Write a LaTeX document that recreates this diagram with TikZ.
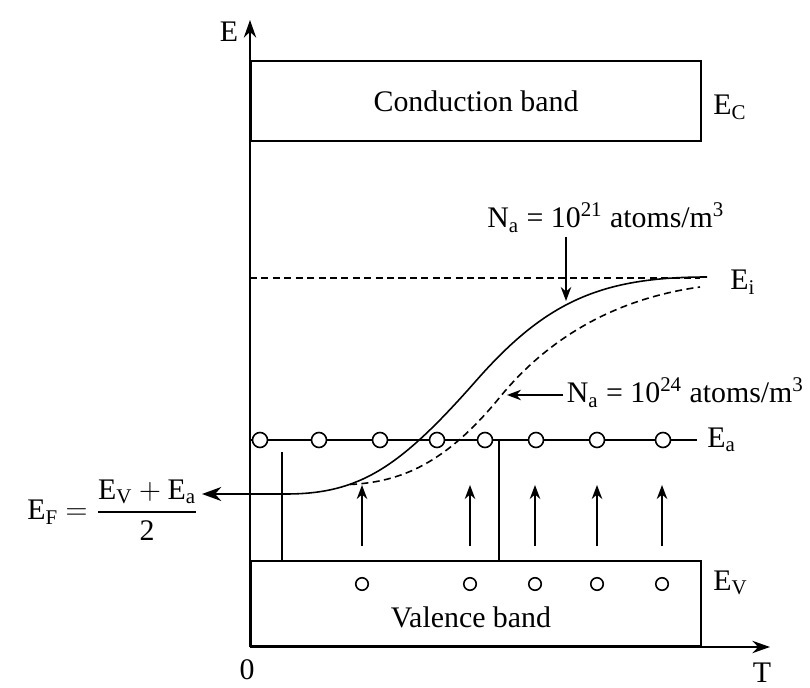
\documentclass[tikz,border=0pt]{standalone}
\usepackage{amsmath}
\usepackage{fontspec}
\setmainfont{Liberation Serif}
\usetikzlibrary{arrows.meta,positioning,calc}

\begin{document}
\begin{tikzpicture}[
  font=\fontsize{17}{20}\selectfont,
  band/.style={draw,line width=1.2pt,minimum width=9cm,inner sep=0pt,anchor=south west},
  lvl/.style={line width=0.9pt},
  arr/.style={-{Stealth[length=8pt,width=6pt]},line width=0.9pt},
  axis/.style={-{Stealth[length=10pt,width=7pt]},line width=1.2pt},
  dot/.style={circle,draw,line width=0.9pt,fill=white,minimum size=0.3cm,inner sep=0pt},
  hole/.style={circle,draw,line width=0.9pt,fill=white,minimum size=0.25cm,inner sep=0pt},
  lbl/.style={anchor=base west,inner sep=0pt}
]
  \useasboundingbox (-5,-0.8) rectangle (11.2,12.94);

  % Axes
  \coordinate (O) at (0,0);
  \draw[axis] (O) -- (0,12.54) coordinate (etip);
  \draw[axis] (O) -- (10.4,0) coordinate (ttip);
  \node (elbl) at (-0.42,12.3) {E};
  \node (tlbl) at (10.24,-0.52) {T};
  \node (zero) at (-0.06,-0.46) {0};

  % Bands
  \node[band,minimum height=1.6cm] (cb) at (0,10.1) {Conduction band};
  \node[band,minimum height=1.7cm] (vb) at (0,0) {};
  \node (vbtxt) at (4.42,0.6) {Valence band};
  \node[lbl] (ec) at (9.26,10.64) {E\textsubscript{C}};
  \node[lbl] (ev) at (9.26,1.14) {E\textsubscript{V}};

  % Intrinsic level
  \draw[lvl,dash pattern=on 4pt off 2.5pt] (0,7.38) coordinate (ei0) -- (9.0,7.38) coordinate (ei1);
  \node[lbl] (eilbl) at (9.6,7.14) {E\textsubscript{i}};

  % Acceptor level
  \draw[lvl] (0,4.14) coordinate (ea0) -- (8.94,4.14) coordinate (ea1);
  \node[lbl] (ealbl) at (9.14,4.0) {E\textsubscript{a}};

  % Thin markers
  \draw[lvl] (0.64,1.7) -- (0.64,3.9);
  \draw[lvl] (4.98,1.7) -- (4.98,4.14);

  % Fermi level curves
  \draw[lvl] (0.72,3.06) coordinate (ef0) .. controls (2.2,3.06) and (3.0,3.6) .. (4.5,5.3)
     .. controls (5.9,6.9) and (7.0,7.4) .. (9.14,7.4);
  \draw[lvl,dash pattern=on 4pt off 2.5pt] (2.0,3.25) .. controls (3.0,3.3) and (3.9,3.65) .. (5.0,5.0)
     .. controls (5.9,6.1) and (7.2,6.95) .. (9.0,7.2);

  % Acceptor atoms and holes
  \foreach \x [count=\i] in {0.2,1.38,2.6,3.74,4.7,5.72,6.94,8.26}
    \node[dot] (a\i) at (\x,4.14) {};
  \foreach \x [count=\i] in {2.24,4.4,5.7,6.94,8.24} {
    \node[hole] (h\i) at (\x,1.26) {};
    \draw[arr] (h\i) ++(0,0.76) -- ++(0,1.22);
  }

  % Annotations
  \node[anchor=east,inner sep=2pt] (ef) at (-0.96,2.74)
    {E\textsubscript{F} $=\dfrac{\text{E}_\text{V}+\text{E}_\text{a}}{\text{2}}$};
  \draw[-{Stealth[length=11pt,width=8pt]},line width=1.2pt] (ef0) -- (ef0 -| ef.east);

  \node[anchor=base west,inner sep=2pt] (na21) at (4.67,8.38) {N\textsubscript{a} = 10\textsuperscript{21} atoms/m\textsuperscript{3}};
  \coordinate (s21) at (6.32,6.92);
  \draw[arr] (na21.south -| s21) -- (s21);

  \node[anchor=base west,inner sep=2pt] (na24) at (6.26,4.88) {N\textsubscript{a} = 10\textsuperscript{24} atoms/m\textsuperscript{3}};
  \coordinate (d24) at (5.14,5.04);
  \draw[arr] (na24.west |- d24) -- (d24);
\end{tikzpicture}
\end{document}
